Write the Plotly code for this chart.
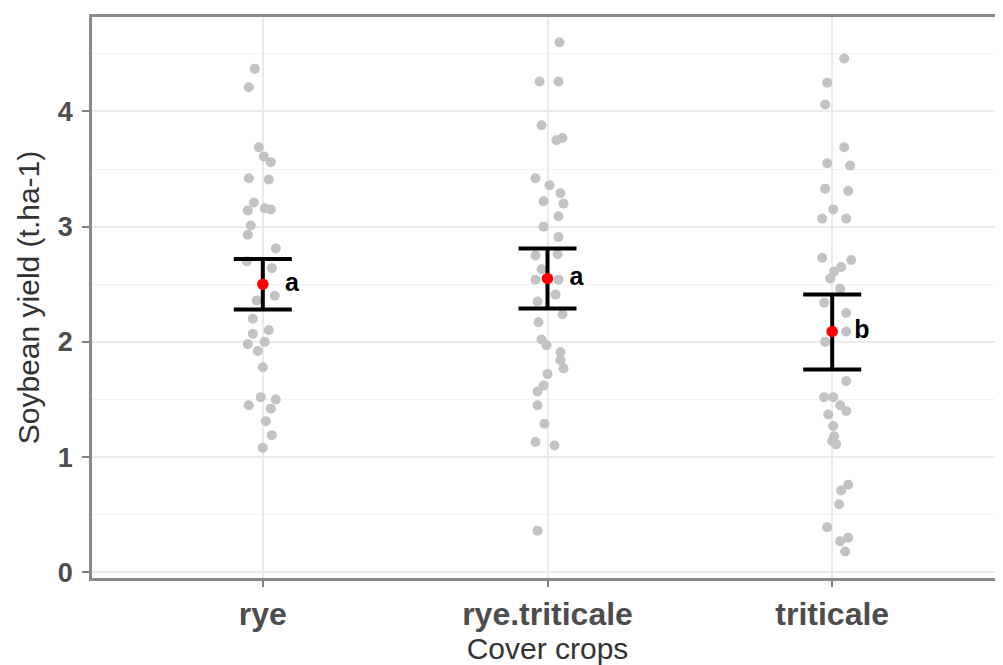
import plotly.graph_objects as go

categories = ["rye", "rye.triticale", "triticale"]

rye_vals = [4.37, 4.21, 3.69, 3.61, 3.56, 3.42, 3.41, 3.21, 3.14, 3.16, 3.15, 3.01, 2.93,
            2.81, 2.70, 2.64, 2.40, 2.36, 2.20, 2.10, 2.07, 1.98, 2.00, 1.92, 1.78, 1.52,
            1.50, 1.45, 1.42, 1.31, 1.19, 1.08]
rye_jit = [-8, -14, -4, 1, 8, -14, 6, -9, -15, 2, 8, -12, -15, 13, -16, 9, 12, -6, -10, 6,
           -10, -15, 2, -5, 0, -2, 13, -14, 8, 3, 9, 0]

rt_vals = [4.60, 4.26, 4.26, 3.88, 3.75, 3.77, 3.42, 3.36, 3.29, 3.22, 3.20, 3.09, 3.00,
           2.91, 2.75, 2.76, 2.63, 2.54, 2.54, 2.41, 2.35, 2.24, 2.17, 2.02, 1.97, 1.91,
           1.84, 1.77, 1.72, 1.62, 1.57, 1.45, 1.29, 1.13, 1.10, 0.36]
rt_jit = [12, -8, 11, -6, 9, 15, -12, 2, 13, -4, 16, 11, -4, 11, -12, 10, -6, -12, 11, 8,
          -10, 15, -9, -6, -1, 13, 13, 16, 0, -4, -10, -10, -3, -12, 7, -10]

tri_vals = [4.46, 4.25, 4.06, 3.69, 3.55, 3.53, 3.33, 3.31, 3.15, 3.07, 3.07, 2.73, 2.71,
            2.65, 2.61, 2.55, 2.46, 2.34, 2.25, 2.09, 2.00, 1.66, 1.52, 1.52, 1.45, 1.40,
            1.37, 1.27, 1.18, 1.14, 1.11, 0.76, 0.71, 0.59, 0.39, 0.30, 0.27, 0.18]
tri_jit = [12, -5, -7, 12, -5, 18, -7, 16, 1, -10, 14, -10, 19, 9, 2, -2, 8, -8, 14, 14,
           -7, 14, -8, 1, 8, 14, -4, 1, 2, 0, 4, 16, 9, 7, -5, 16, 8, 13]

means = [2.50, 2.55, 2.09]
ci_upper = [2.72, 2.81, 2.41]
ci_lower = [2.28, 2.29, 1.76]
letters = ["a", "a", "b"]

PX_PER_CAT = 284.7  # pixel spacing between category centres, to convert jitter px

fig = go.Figure()

for i, (vals, jit) in enumerate([(rye_vals, rye_jit), (rt_vals, rt_jit), (tri_vals, tri_jit)]):
    fig.add_trace(go.Scatter(
        x=[i + j / PX_PER_CAT for j in jit], y=vals, mode="markers",
        marker=dict(color="#c3c3c3", size=10, line=dict(width=0)),
        showlegend=False, hoverinfo="y"))

fig.add_trace(go.Scatter(
    x=list(range(len(categories))), y=means, mode="markers+text",
    marker=dict(color="#ff0000", size=11.5, line=dict(width=0)),
    error_y=dict(type="data", symmetric=False,
                 array=[u - m for u, m in zip(ci_upper, means)],
                 arrayminus=[m - l for m, l in zip(means, ci_lower)],
                 color="black", thickness=4, width=29),
    text=["  " + t for t in letters], textposition="middle right",
    textfont=dict(family="Liberation Sans", size=25, color="black", weight="bold"),
    showlegend=False))

# the page body has an 8px margin, so the figure is sized to end at the window edge
fig.update_layout(
    width=995, height=657,
    margin=dict(l=84, r=0, t=9, b=87),
    paper_bgcolor="white", plot_bgcolor="white",
    font=dict(family="Liberation Sans", color="#333333"),
)

fig.update_xaxes(
    range=[-0.6, 2.6], tickvals=list(range(len(categories))), ticktext=categories,
    tickfont=dict(size=32, color="#4d4d4d", weight="bold"),
    ticks="outside", ticklen=6, tickwidth=2, tickcolor="#7f7f7f",
    showgrid=True, gridcolor="#ebebeb", gridwidth=1.5,
    showline=True, linecolor="#8a8a8a", linewidth=2.5, mirror=True,
    zeroline=False, automargin=False,
    title=dict(text="Cover crops", font=dict(size=30, color="#333333"), standoff=14),
)

fig.update_yaxes(
    range=[-0.05, 4.82], tickvals=[0, 1, 2, 3, 4],
    tickfont=dict(size=27, color="#4d4d4d", weight="bold"),
    ticks="outside", ticklen=7, tickwidth=2, tickcolor="#7f7f7f",
    ticklabelstandoff=4,
    showgrid=True, gridcolor="#ebebeb", gridwidth=1.5,
    minor=dict(tickvals=[0.5, 1.5, 2.5, 3.5, 4.5], showgrid=True, gridcolor="#f2f2f2", gridwidth=1),
    showline=True, linecolor="#8a8a8a", linewidth=2.5, mirror=True,
    zeroline=False, automargin=False,
    title=dict(text="Soybean yield (t.ha-1)", font=dict(size=30, color="#333333"), standoff=10),
)

fig.write_html("out.html")
